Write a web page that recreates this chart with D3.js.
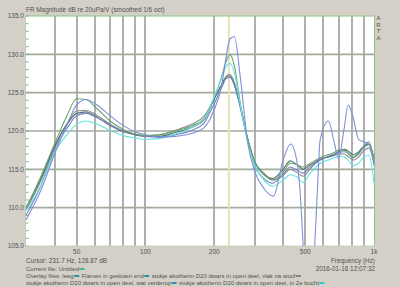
<!DOCTYPE html>
<html><head><meta charset="utf-8">
<script src="https://cdn.jsdelivr.net/npm/d3@7"></script>
<style>
html,body{margin:0;padding:0;background:#d4d0c8;}
svg{display:block;font-family:"Liberation Sans",Arial,sans-serif;}
</style></head>
<body><svg id="c" width="400" height="287"></svg>
<script>
// ---- data ----
const grid = [30,35,40,45,50,55,60,70,80,90,100,115,135,160,180,200,215,225,234,245,260,280,300,330,360,400,430,460,490,520,555,590,630,670,700,740,770,810,850,900,950,1000];
const greenDb = [109.9,114.2,118.3,121.8,124.2,124.1,123.2,121.3,120.2,119.6,119.4,119.5,120.0,120.7,121.6,124.4,127.0,129.0,130.0,128.5,123.6,118.8,116.0,114.3,113.6,114.6,115.8,115.6,115.3,115.7,116.2,116.6,116.9,117.2,117.5,117.5,117.1,116.6,117.0,118.0,118.6,116.2];
const grayDb = [109.7,113.6,117.9,120.8,122.6,122.7,122.2,120.9,120.0,119.6,119.4,119.5,120.1,120.9,121.9,124.2,126.0,127.1,127.4,126.3,123.3,119.0,116.1,114.5,113.6,114.2,115.0,114.6,114.1,114.9,115.8,116.3,116.6,116.8,117.0,117.0,116.7,116.2,116.5,117.4,117.8,115.8];
const darkDb = [110.0,113.9,118.0,120.7,122.3,122.5,122.0,120.7,119.9,119.5,119.3,119.3,119.8,120.5,121.4,124.2,126.0,127.0,127.2,126.0,123.2,119.0,116.0,114.3,113.8,115.0,116.1,115.6,115.0,115.5,116.0,116.4,116.6,116.9,117.3,117.6,117.4,116.9,117.2,118.0,118.3,116.5];
const slateDb = [109.0,113.0,117.6,120.2,122.0,122.3,121.9,120.8,120.0,119.6,119.3,119.2,119.5,120.1,121.0,123.6,125.6,126.8,127.0,126.0,123.0,118.8,115.5,113.8,113.2,114.3,115.3,114.9,114.5,115.2,115.8,116.3,116.7,117.0,117.2,117.3,117.1,116.5,116.9,117.8,118.2,115.5];
const cyanDb = [109.6,113.0,117.2,119.4,120.9,121.3,121.0,120.1,119.4,119.1,118.9,119.0,119.6,120.5,121.5,124.5,126.8,128.4,128.8,127.6,123.4,118.5,115.6,113.6,112.8,113.6,114.3,114.0,113.3,114.3,115.3,115.9,116.2,116.5,116.7,116.6,116.2,115.5,115.7,116.6,116.8,113.2];
const blueGrid = [30,35,40,45,50,55,60,70,80,90,100,115,135,160,180,200,215,225,234,245,260,280,300,330,363,400,432,460,475,490,520,550,565,581,631,670,699,740,771,810,856,900,950,1000];
const blueDb = [108.4,112.4,117.0,120.6,123.4,124.1,123.6,122.0,120.7,119.9,119.5,119.2,119.3,119.7,120.4,122.8,125.8,129.5,132.0,132.3,127.0,118.5,114.8,112.5,111.5,116.2,118.3,116.0,112.0,105.0,93.0,105.0,112.0,118.8,121.3,118.5,116.4,120.3,123.4,121.8,118.9,118.6,118.3,116.0];

const yTicks = [105,110,115,120,125,130,135];
const xGridFreqs = [40,50,60,70,80,90,100,200,300,400,500,600,700,800,900];
const xTickLabels = [[50,"50"],[100,"100"],[200,"200"],[500,"500"],[1000,"1k"]];
const cursorFreq = 231.7;

const series = [
  {f: grid, db: grayDb, color: "#8c8c8c"},
  {f: grid, db: darkDb, color: "#4e6e6e"},
  {f: grid, db: slateDb, color: "#7383c4"},
  {f: grid, db: greenDb, color: "#6aa56a"},
  {f: grid, db: cyanDb, color: "#62e4e6"},
  {f: blueGrid, db: blueDb, color: "#7d90d8"}
];

const legendLines = [
  [["Current file: Untitled", "#3cb89a"]],
  [["Overlay files: leeg", "#2f95a5"], ["Flamex in gesloten end", "#2f9090"], ["stukje akotherm D20 dwars in open deel, vlak na woof", "#858585"]],
  [["stukje akotherm D20 dwars in open deel, wat verderop", "#3a8fb0"], ["stukje akotherm D20 dwars in open deel, in 2e bocht", "#35c8c8"]]
];

// ---- drawing ----
const L = 26, R = 374, T = 16, B = 246;
const svg = d3.select("#c");
const x = d3.scaleLog().domain([30, 1000]).range([L, R]);
const y = d3.scaleLinear().domain([105, 135]).range([B, T]);
const txt = "#505050";

svg.append("rect").attr("x", L).attr("y", T).attr("width", R - L).attr("height", B - T).attr("fill", "#fff");

// vertical grid
svg.append("g").selectAll("line").data(xGridFreqs).join("line")
  .attr("x1", d => Math.round(x(d))).attr("x2", d => Math.round(x(d)))
  .attr("y1", T).attr("y2", B).attr("stroke", "#9c9c9c").attr("stroke-width", 1.6);
// horizontal grid
svg.append("g").selectAll("line").data(yTicks.slice(1, -1)).join("line")
  .attr("x1", L).attr("x2", R).attr("y1", d => y(d)).attr("y2", d => y(d))
  .attr("stroke", "#a3ab9c").attr("stroke-width", 1.7);
// minor y ticks
svg.append("g").selectAll("line").data(d3.range(105, 136, 1)).join("line")
  .attr("x1", L).attr("x2", L + 2.5).attr("y1", d => y(d)).attr("y2", d => y(d))
  .attr("stroke", "#7fb07f").attr("stroke-width", 1);
// cursor
svg.append("line").attr("x1", x(cursorFreq)).attr("x2", x(cursorFreq)).attr("y1", T).attr("y2", B)
  .attr("stroke", "#e6e2bc").attr("stroke-width", 2);
// borders
svg.append("line").attr("x1", L).attr("x2", R + 1).attr("y1", T).attr("y2", T).attr("stroke", "#8cc48c").attr("stroke-width", 1);
svg.append("line").attr("x1", R + 0.5).attr("x2", R + 0.5).attr("y1", T).attr("y2", B).attr("stroke", "#8cc48c").attr("stroke-width", 1);
svg.append("line").attr("x1", L).attr("x2", R).attr("y1", B).attr("y2", B).attr("stroke", "#c8d8c0").attr("stroke-width", 1);
svg.append("line").attr("x1", L - 0.5).attr("x2", L - 0.5).attr("y1", T).attr("y2", B).attr("stroke", "#c0c8bc").attr("stroke-width", 1);

// curves
svg.append("clipPath").attr("id", "clip").append("rect").attr("x", L).attr("y", T).attr("width", R - L + 1).attr("height", B - T);
const line = d3.line().x(d => x(d[0])).y(d => y(d[1])).curve(d3.curveMonotoneX);
const cg = svg.append("g").attr("clip-path", "url(#clip)");
series.forEach(s => {
  cg.append("path").attr("d", line(s.f.map((f, i) => [f, s.db[i]])))
    .attr("fill", "none").attr("stroke", s.color).attr("stroke-width", 1.1);
});

// axis labels
svg.append("g").selectAll("text").data(yTicks).join("text")
  .attr("x", L - 2).attr("y", d => y(d) + 2.2).attr("text-anchor", "end")
  .attr("font-size", 6.5).attr("fill", txt).text(d => d.toFixed(1));
svg.append("g").selectAll("text").data(xTickLabels).join("text")
  .attr("x", d => x(d[0])).attr("y", 254).attr("text-anchor", "middle")
  .attr("font-size", 6.5).attr("fill", txt).text(d => d[1]);

svg.append("text").attr("x", L).attr("y", 12).attr("font-size", 6.4).attr("fill", txt)
  .text("FR Magnitude dB re 20uPa/V (smoothed 1/6 oct)");
["A","R","T","A"].forEach((c, i) => svg.append("text").attr("x", 378.5).attr("y", 20 + i * 6.7)
  .attr("text-anchor", "middle").attr("font-size", 6).attr("fill", txt).text(c));

svg.append("text").attr("x", L).attr("y", 263).attr("font-size", 6.4).attr("fill", txt).text("Cursor: 231.7 Hz, 128.87 dB");
svg.append("text").attr("x", 375).attr("y", 263).attr("text-anchor", "end").attr("font-size", 6.4).attr("fill", txt).text("Frequency (Hz)");
svg.append("text").attr("x", 375).attr("y", 270.5).attr("text-anchor", "end").attr("font-size", 6.4).attr("fill", txt).text("2016-01-16  12:07:32");

const legY = [271, 278, 285];
legendLines.forEach((segs, li) => {
  let cx = L;
  segs.forEach(([t, col]) => {
    const te = svg.append("text").attr("x", cx).attr("y", legY[li]).attr("font-size", 6.0).attr("fill", txt).text(t);
    cx += te.node().getComputedTextLength() + 0.5;
    svg.append("line").attr("x1", cx).attr("x2", cx + 5).attr("y1", legY[li] - 2).attr("y2", legY[li] - 2)
      .attr("stroke", col).attr("stroke-width", 2);
    cx += 7.5;
  });
});
</script></body></html>
